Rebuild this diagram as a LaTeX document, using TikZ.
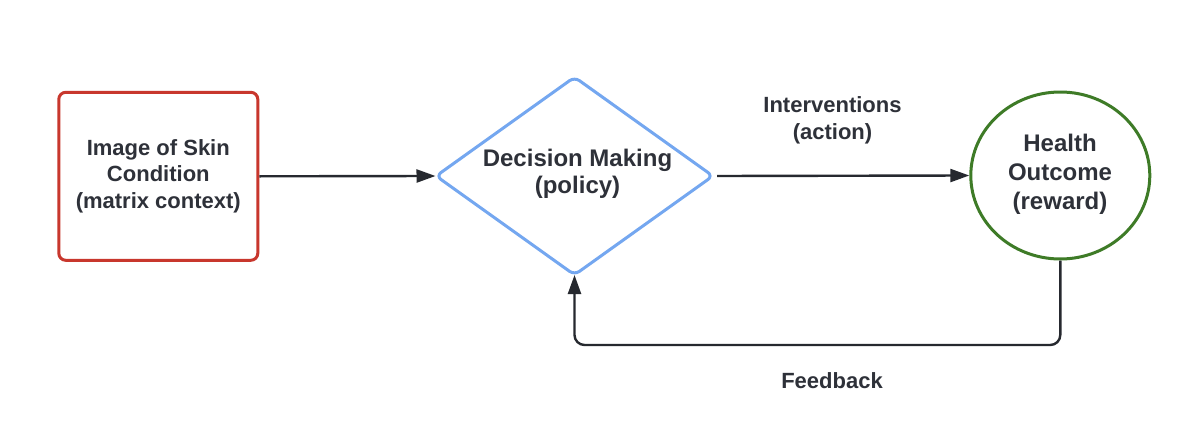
\documentclass[tikz,border=0pt]{standalone}
\usepackage{fontspec}
\setmainfont{Liberation Sans}
\usetikzlibrary{shapes.geometric,arrows.meta}
\definecolor{redc}{HTML}{C8372D}
\definecolor{bluec}{HTML}{74A7F0}
\definecolor{greenc}{HTML}{3E7B27}
\definecolor{txtc}{HTML}{2E3139}
\definecolor{arrc}{HTML}{26292F}
\tikzset{
  lbl/.style={text=txtc, align=center, inner sep=0pt, font=\bfseries\fontsize{22}{27}\selectfont},
  conn/.style={draw=arrc, line width=2.4pt, -{Triangle[length=19pt,width=13pt]}},
}
\begin{document}
\begin{tikzpicture}[x=1pt,y=-1pt]
\useasboundingbox[fill=white] (0,0) rectangle (1200,434);
\node[draw=redc, line width=3pt, rounded corners=7pt, minimum width=199pt, minimum height=168pt, inner sep=0pt,
      text=txtc, align=center, font=\bfseries\fontsize{22}{26.5}\selectfont] (box) at (158.3,176.3)
      {Image of Skin\\Condition\\(matrix context)};
\node[draw=bluec, line width=3pt, diamond, rounded corners=6pt, minimum width=278pt, minimum height=199pt, inner sep=0pt] (dia) at (574.5,176) {};
\node[lbl, font=\bfseries\fontsize{24}{26.5}\selectfont] (diatxt) at (577.5,174) {Decision Making\\(policy)};
\node[draw=greenc, line width=3pt, ellipse, minimum width=179pt, minimum height=167pt, inner sep=0pt] (circ) at (1060.3,175.5) {};
\node[lbl, font=\bfseries\fontsize{24}{29}\selectfont] (circtxt) at (1060,174.6) {Health\\Outcome\\(reward)};
\node[lbl] (interv) at (832.5,120.8) {Interventions\\(action)};
\node[lbl] (feed) at (832,381) {Feedback};
\coordinate (fbc) at (832,345);
\draw[conn, shorten >=-1.5pt] (box.east) -- (dia.west);
\draw[conn, shorten <=2pt] (dia.east) -- (circ.west);
\draw[conn, rounded corners=10pt, shorten >=-2pt] (circ.south) |- (fbc) -| (dia.south);
\end{tikzpicture}
\end{document}
